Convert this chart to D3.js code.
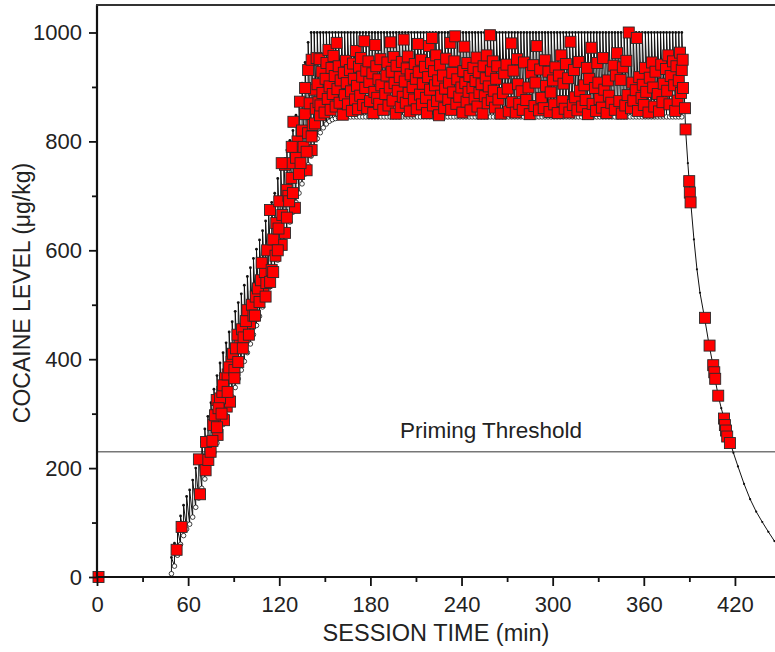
<!DOCTYPE html>
<html>
<head>
<meta charset="utf-8">
<script src="https://cdn.jsdelivr.net/npm/d3@7"></script>
<style>
  html, body { margin: 0; padding: 0; background: #fff; }
  svg { display: block; }
  text { font-family: "Liberation Sans", Arial, Helvetica, sans-serif; fill: #222; }
</style>
</head>
<body>
<svg id="chart" width="775" height="652"></svg>
<script>
// ---------------- DATA ----------------
const xTickValues = [0, 60, 120, 180, 240, 300, 360, 420];
const xMinorTicks = [30, 90, 150, 210, 270, 330, 390, 450];
const yTickValues = [0, 200, 400, 600, 800, 1000];
const yMinorTicks = [100, 300, 500, 700, 900];
const thresholdLevel = 230;
const thresholdLabel = "Priming Threshold";
const xTitle = "SESSION TIME (min)";
const yTitle = "COCAINE LEVEL (\u03BCg/kg)";

// pre-drug baseline of the cocaine-level trace
const baselineT = [0, 48];
const baselineV = [0, 0];

// loading phase: infusion times, level just before and just after each infusion
const riseT = [49,51,53,55,57,59,61,63,65,67,69,71,73,75,77,79,81,83,85,87,89,91,93,95,97,99,101,103,105,107,109,111,113,115,117,119,121,123,125,127,129,131,133,135,137,139,141,143];
const riseTrough = [6,20,40,60,76,88,97,110,128,145,163,180,195,212,229,246,263,280,297,314,331,348,364,380,396,412,428,445,462,479,496,514,531,548,565,582,599,617,634,652,670,688,705,722,740,757,773,790];
const risePeak = [36,62,88,112,132,148,160,178,200,222,248,272,295,320,345,370,393,412,430,450,469,488,504,520,536,552,568,585,602,619,636,654,671,688,705,732,749,767,784,802,820,848,875,907,945,982,1000,1000];

// maintenance phase: infusion times; trough rises to the floor, peaks at ceiling
const plateauT = [145,147,149,151,153,155,157,159,161,163,165,167,169,171,173,175,177,179,181,183,185,187,189,191,193,195,197,199,201,203,205,207,209,211,213,215,217,219,221,223,225,227,229,231,233,235,237,239,241,243,245,247,249,251,253,255,257,259,261,263,265,267,269,271,273,275,277,279,281,283,285,287,289,291,293,295,297,299,301,303,305,307,309,311,313,315,317,319,321,323,325,327,329,331,333,335,337,339,341,343,345,347,349,351,353,355,357,359,361,363,365,367,369,371,373,375,377,379,381,383,385];
const plateauTransitionTrough = [805,816,825,832,837,840,842,844];
const plateauLow = 845;
const plateauHigh = 1000;

// washout after the last infusion
const declineT = [386.5,387.5,389,390,391,393,395,397,400,403,405.5,407,409,411,413,415,417,419,422,426,430,434,438,442,446,450];
const declineV = [900,822,760,722,685,620,565,522,476,426,390,362,333,310,290,266,246,228,203,171,143,120,101,83,66,55];

// responses (red squares): [time, level]
const originSquares = [[1,0]];
const riseSquares = [
 [52.4,50],[55.7,92],[67.8,152],[67.1,216],[71.5,196],[73.3,215],[74.8,230],[71.8,248],[76.6,279],[79.4,261],
 [78.8,298],[83.6,288],[85.4,313],[87.6,322],[77.7,297],[78.8,325],[81,328],[84.3,365],[88.6,395],[94,430],
 [100.7,466],[109.5,521],[80,310],[82.5,340],[83,352],[86,372],[87,385],[89.5,410],[90.5,380],[91.5,420],
 [92.5,445],[95.5,455],[96.5,440],[98,470],[99,490],[102,500],[103,480],[104.5,515],[106,530],[107,505],
 [108,545],[110.5,560],[111.5,540],[108.4,577],[114,542],[115,564],[113.9,674],[121.6,610],[123.8,632],[124.9,711],
 [128,733],[123.8,757],[130.3,678],[129.3,836],[133.6,873],[138,747],[141.3,784],[112,600],[116,620],[117.5,590],
 [118,650],[119.5,640],[120,690],[122,665],[126,700],[127,760],[126.5,690],[131,770],[132,800],[134,760],
 [135,820],[136,790],[137,850],[139,815],[140,870],[142,830],[143,895],[144,860],[121.6,760],[128.2,790],
 [137,898],[139,931],[141.3,950],[144.6,953],[143.5,833],[146.8,848],[141.3,809],[138,781],
 [90.5,365],[93,395],[96,420],[100,445],[104,480],[111,515],[116,560],[119,600],[125,660],[129,705],
 [133,740],[86,340],[82,300],[79,275],[76,250]
];
const plateauSquares = [
 [145.2,905],[145.8,872],[146.5,951],[147.1,866],[147.9,928],[148.4,889],[149.8,853],[150.5,915],[151.1,944],
 [151.9,878],[152.4,968],[153.1,901],[153.8,858],[154.4,935],[155.2,887],[155.7,957],[156.5,920],[157.1,864],[157.8,981],
 [158.3,896],[159.1,938],[159.7,871],[160.4,912],[161.8,849],[162.5,926],[163.1,885],[163.9,948],[164.4,907],
 [165.2,868],[166.5,931],[167.2,892],[167.8,856],[168.6,943],[169.1,915],[169.9,877],[170.4,966],[171.2,902],
 [171.9,859],[172.5,937],[173.3,884],[173.8,953],[174.6,919],[175.2,867],
 [176.0,984],[176.6,898],[177.3,930],[177.9,861],[178.7,947],[179.3,909],[179.8,874],[181.3,925],[181.9,852],
 [182.6,891],[183.2,977],[183.9,938],[184.5,880],[185.3,914],[185.8,869],[186.6,951],[187.2,903],[188.5,858],
 [189.8,887],[190.6,921],[191.2,945],[191.9,866],[192.7,899],[193.2,982],[194.0,928],[194.6,875],[195.3,955],
 [195.9,907],[196.7,851],[197.2,939],[198.0,893],[199.3,918],[199.9,863],[200.7,946],[201.3,882],[201.9,987],
 [202.6,910],[203.3,871],[203.9,934],[204.6,956],[205.2,889],[205.9,855],[206.5,923],[207.8,900],[208.6,877],
 [209.2,942],[209.9,915],[210.5,859],[211.3,979],[211.8,927],[212.6,886],[213.2,950],[213.9,868],[214.5,906],
 [215.9,937],[216.6,880],[217.2,852],[218.0,918],[218.5,975],[219.3,895],[219.9,944],[220.5,990],[221.2,866],
 [221.9,929],[222.5,903],[223.3,958],[223.8,874],[224.6,912],[225.2,848],[225.9,940],[226.6,884],[227.8,921],
 [228.6,861],[229.2,897],[229.9,952],[231.3,876],[231.8,908],[232.6,981],[233.2,858],[233.9,926],[234.5,890],
 [235.3,947],[235.8,993],[236.6,869],[237.2,914],[238.5,882],[239.9,899],[240.6,853],[241.2,929],
 [241.9,974],[242.5,907],[243.3,873],[243.8,944],[244.6,891],[245.2,920],[245.9,857],[247.2,898],[247.8,935],
 [248.6,879],[249.2,911],[249.9,954],[250.5,864],[251.3,927],[251.8,889],[253.2,905],[253.9,851],[254.5,938],
 [255.3,883],[255.9,916],[256.6,958],[257.2,870],[257.9,901],[258.7,995],[259.3,930],[259.9,876],[260.6,947],[261.2,893],
 [262.0,862],[262.8,915],[263.5,938],[264.3,877],[265.8,851],[267.3,889],[268.1,925],
 [269.6,941],[270.4,897],[271.1,855],[272.7,980],[273.4,872],[274.2,930],[275.7,853],[276.5,951],
 [277.2,905],[278.0,869],[279.5,892],[280.3,858],[281.1,945],[282.6,876],[284.1,899],
 [284.9,850],[285.7,926],[287.2,940],[288.0,865],[288.7,908],[289.5,975],[291.0,857],[291.8,932],
 [292.6,880],[294.1,861],[294.9,949],[295.6,902],[297.2,928],[297.9,854],[298.7,890],
 [300.2,912],[301.0,868],[301.8,936],[303.3,852],[304.1,921],[305.6,958],[306.4,874],[307.1,906],
 [307.9,860],[308.7,942],[310.2,916],[311.0,853],[311.7,983],[313.3,867],[314.0,931],[314.8,881],
 [316.3,857],[317.1,946],[317.9,893],[319.4,864],[320.9,903],[321.7,876],[322.5,935],
 [323.2,850],[324.0,915],[325.5,972],[326.3,869],[327.8,898],[328.6,856],[329.4,944],[330.1,908],
 [330.9,878],[332.4,862],[333.2,953],[334.0,895],[335.5,852],[336.3,912],[337.0,884],
 [338.6,871],[340.1,939],[340.9,858],[341.6,921],[342.4,962],[343.9,874],[344.7,913],[345.5,851],
 [346.2,936],[347.8,866],[348.5,948],[349.3,885],[350.1,1000],[351.6,861],[352.4,908],[353.1,875],
 [354.7,894],[355.4,990],[356.2,856],[357.0,918],[358.5,880],[359.3,904],[360.0,867],[360.8,935],
 [361.6,891],[363.1,853],[363.9,917],[365.4,945],[366.2,899],[366.9,864],[367.7,928],
 [369.2,887],[370.0,855],[371.5,941],[372.3,872],[373.1,906],[374.6,933],[375.4,893],[376.1,958],
 [376.9,868],[377.7,920],[379.2,947],[380.0,903],[380.7,856],[381.5,938],[382.3,875],[383.0,912],[383.8,963],
 [384.5,889],[385.0,931]
];
const declineSquares = [
 [385.6,950],[385.8,898],[387.1,861],[387.5,822],[389.9,727],[390.3,706],[390.8,688],[400.3,476],[403.3,425],[405.7,389],
 [406.4,376],[407.0,364],[409.0,333],[412.8,291],[413.4,279],[414.1,269],[414.9,258],[416.7,246]
];

// ---------------- CHART ----------------
const W = 775, H = 652;
const svg = d3.select("#chart");

const x = d3.scaleLinear().domain([0, 450]).range([97, 780.5]);
const y = d3.scaleLinear().domain([0, 1050.5]).range([577, 5]);

// build the trace from the data arrays
const trace = [];
baselineT.forEach((t, i) => trace.push([t, baselineV[i]]));
riseT.forEach((t, i) => { trace.push([t, riseTrough[i]]); trace.push([t, risePeak[i]]); });
const plateauTrough = plateauT.map((t, i) => i < plateauTransitionTrough.length ? plateauTransitionTrough[i] : plateauLow);
plateauT.forEach((t, i) => { trace.push([t, plateauTrough[i]]); trace.push([t, plateauHigh]); });
declineT.forEach((t, i) => trace.push([t, declineV[i]]));

const plot = svg.append("g");

// threshold
plot.append("line")
  .attr("x1", x(0)).attr("x2", W)
  .attr("y1", y(thresholdLevel)).attr("y2", y(thresholdLevel))
  .attr("stroke", "#777").attr("stroke-width", 1.3);
plot.append("text")
  .attr("x", 491).attr("y", y(thresholdLevel) - 14)
  .attr("text-anchor", "middle")
  .attr("font-size", 22.5)
  .text(thresholdLabel);

// trace line
const line = d3.line().x(d => x(d[0])).y(d => y(d[1]));
plot.append("path")
  .datum(trace)
  .attr("fill", "none")
  .attr("stroke", "#111")
  .attr("stroke-width", 1)
  .attr("d", line);

// trough markers (open circles)
const troughPts = riseT.map((t, i) => [t, riseTrough[i]]).concat(plateauT.map((t, i) => [t, plateauTrough[i]]));
plot.append("g").selectAll("circle").data(troughPts).join("circle")
  .attr("cx", d => x(d[0])).attr("cy", d => y(d[1])).attr("r", 2.3)
  .attr("fill", "#fff").attr("stroke", "#111").attr("stroke-width", 0.8);

// peak markers (small dots)
const peakPts = riseT.map((t, i) => [t, risePeak[i]]).concat(plateauT.map(t => [t, plateauHigh]));
plot.append("g").selectAll("circle").data(peakPts).join("circle")
  .attr("cx", d => x(d[0])).attr("cy", d => y(d[1])).attr("r", 1.4)
  .attr("fill", "#111");

// washout markers
plot.append("g").selectAll("circle").data(declineT.map((t, i) => [t, declineV[i]])).join("circle")
  .attr("cx", d => x(d[0])).attr("cy", d => y(d[1])).attr("r", 1.1)
  .attr("fill", "#111");

// responses
const sq = 11;
const allSquares = originSquares.concat(riseSquares, plateauSquares, declineSquares);
plot.append("g").selectAll("rect").data(allSquares).join("rect")
  .attr("x", d => x(d[0]) - sq / 2).attr("y", d => y(d[1]) - sq / 2)
  .attr("width", sq).attr("height", sq)
  .attr("fill", "#ff0000").attr("stroke", "#2a2a2a").attr("stroke-width", 0.9);

// axes
const fontSize = 22;
const xAxis = d3.axisBottom(x).tickValues(xTickValues).tickFormat(d3.format("d")).tickSize(9).tickPadding(10).tickSizeOuter(0);
const gx = svg.append("g").attr("transform", `translate(0,${y(0)})`).call(xAxis);
gx.select(".domain").remove();
gx.selectAll(".tick line").attr("stroke", "#111").attr("stroke-width", 1.8);
gx.selectAll(".tick text").attr("font-size", fontSize).attr("font-family", "Liberation Sans, Arial, sans-serif").attr("fill", "#222");

const xMinor = d3.axisBottom(x).tickValues(xMinorTicks).tickSize(5).tickFormat("").tickSizeOuter(0);
const gxm = svg.append("g").attr("transform", `translate(0,${y(0)})`).call(xMinor);
gxm.select(".domain").remove();
gxm.selectAll(".tick line").attr("stroke", "#111").attr("stroke-width", 1.8);

const yAxis = d3.axisLeft(y).tickValues(yTickValues).tickFormat(d3.format("d")).tickSize(8).tickPadding(7).tickSizeOuter(0);
const gy = svg.append("g").attr("transform", `translate(${x(0)},0)`).call(yAxis);
gy.select(".domain").remove();
gy.selectAll(".tick line").attr("stroke", "#111").attr("stroke-width", 1.8);
gy.selectAll(".tick text").attr("font-size", fontSize).attr("font-family", "Liberation Sans, Arial, sans-serif").attr("fill", "#222");

const yMinor = d3.axisLeft(y).tickValues(yMinorTicks).tickSize(5).tickFormat("").tickSizeOuter(0);
const gym = svg.append("g").attr("transform", `translate(${x(0)},0)`).call(yMinor);
gym.select(".domain").remove();
gym.selectAll(".tick line").attr("stroke", "#111").attr("stroke-width", 1.8);

// frame lines
svg.append("line").attr("x1", x(0)).attr("x2", W).attr("y1", y(0)).attr("y2", y(0))
  .attr("stroke", "#111").attr("stroke-width", 2.2);
svg.append("line").attr("x1", x(0)).attr("x2", x(0)).attr("y1", 5).attr("y2", y(0) + 1)
  .attr("stroke", "#111").attr("stroke-width", 2.2);
svg.append("line").attr("x1", x(0) - 1).attr("x2", W).attr("y1", 5).attr("y2", 5)
  .attr("stroke", "#333").attr("stroke-width", 2.2);

// titles
svg.append("text")
  .attr("x", 436).attr("y", 641)
  .attr("text-anchor", "middle").attr("font-size", 23.5)
  .text(xTitle);
svg.append("text")
  .attr("transform", "translate(30,293) rotate(-90)")
  .attr("text-anchor", "middle").attr("font-size", 23)
  .text(yTitle);
</script>
</body>
</html>
